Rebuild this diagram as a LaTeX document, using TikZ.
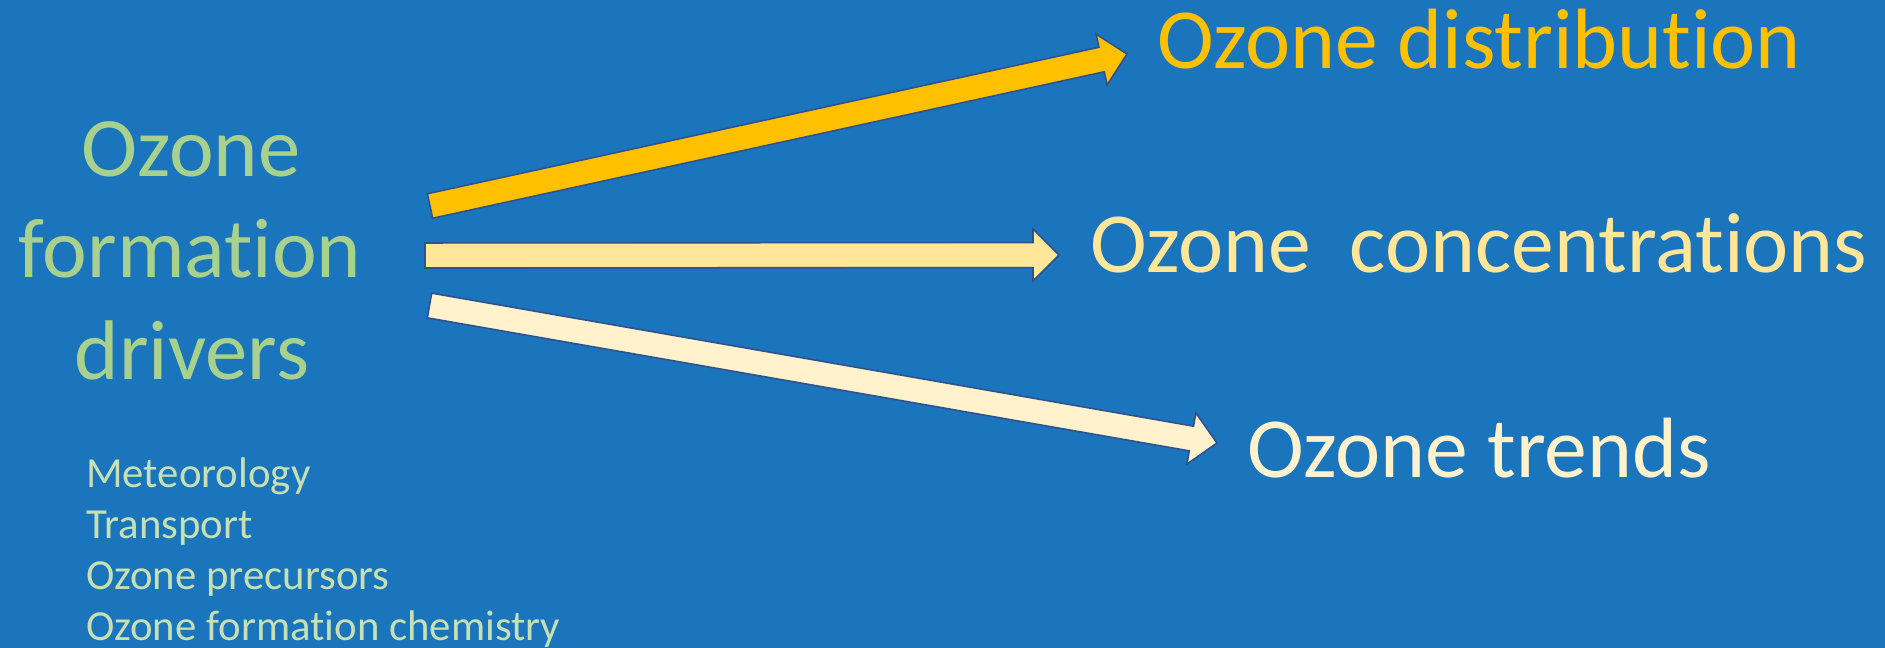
\documentclass[tikz,border=0pt]{standalone}
\usepackage{fontspec}
\setmainfont{Carlito}[Ligatures={NoCommon,NoContextual}, Contextuals=NoAlternate]
\usetikzlibrary{calc}

\definecolor{bgblue}{RGB}{27,117,188}
\definecolor{gold}{RGB}{255,192,0}
\definecolor{paleyellow}{RGB}{255,230,153}
\definecolor{cream}{RGB}{255,242,204}
\definecolor{edgeblue}{RGB}{47,82,143}
\definecolor{titlegreen}{RGB}{169,209,142}
\definecolor{listgreen}{RGB}{197,224,180}

% block arrow: #1 style, #2 tail coordinate, #3 tip coordinate
\newcommand\fatarrow[3]{%
  \coordinate (#2-neck) at ($(#3)!19.5pt!(#2)$);
  \draw[#1] ($(#2)!9.4pt!90:(#3)$)
    -- ($(#2-neck)!9.4pt!90:(#3)$)
    -- ($(#2-neck)!19.5pt!90:(#3)$)
    -- (#3)
    -- ($(#2-neck)!19.5pt!-90:(#3)$)
    -- ($(#2-neck)!9.4pt!-90:(#3)$)
    -- ($(#2)!9.4pt!-90:(#3)$)
    -- cycle;
}

\begin{document}
\begin{tikzpicture}[x=0.75pt, y=-0.75pt,
  title/.style={font=\fontsize{63.5}{76}\selectfont, inner sep=0pt},
  big/.style={font=\fontsize{64.2}{77}\selectfont, inner sep=0pt},
  small/.style={font=\fontsize{32.1}{38}\selectfont, inner sep=0pt},
  blockarrow/.style={draw=edgeblue, line width=1.2pt, line join=miter}]

\useasboundingbox (0,0) rectangle (1885,648);
\fill[bgblue] (0,0) rectangle (1885,648);

% drivers title
\node[title, text=titlegreen, anchor=base] (drvA) at (191,177) {Ozone};
\node[title, text=titlegreen, anchor=base] (drvB) at (190,278) {formation};
\node[title, text=titlegreen, anchor=base] (drvC) at (192,380) {drivers};

% list of drivers
\node[small, text=listgreen, anchor=base west] (met)  at (86,488)   {Meteorology};
\node[small, text=listgreen, anchor=base west] (trn)  at (86,538.5) {Transport};
\node[small, text=listgreen, anchor=base west] (prec) at (86,589)   {Ozone precursors};
\node[small, text=listgreen, anchor=base west] (chem) at (86,640)   {Ozone formation chemistry};

% outcomes
\node[big, text=gold, anchor=base west]       (dist)  at (1157,69)  {Ozone distribution};
\node[big, text=paleyellow, anchor=base west] (conc)  at (1090,273) {Ozone~~concentrations};
\node[big, text=cream, anchor=base west]      (trend) at (1247,478) {Ozone trends};

% arrow ends
\coordinate (src1) at (430,206);
\coordinate (src2) at (425,255.5);
\coordinate (src3) at (429.5,305.5);
\coordinate (tip1) at ($(dist.base west)+(-30,-15)$);
\coordinate (tip2) at ($(conc.base west)+(-31,-18)$);
\coordinate (tip3) at ($(trend.base west)+(-30,-35)$);

\fatarrow{blockarrow, fill=gold}{src1}{tip1}
\fatarrow{blockarrow, fill=paleyellow}{src2}{tip2}
\fatarrow{blockarrow, fill=cream}{src3}{tip3}

\end{tikzpicture}
\end{document}
